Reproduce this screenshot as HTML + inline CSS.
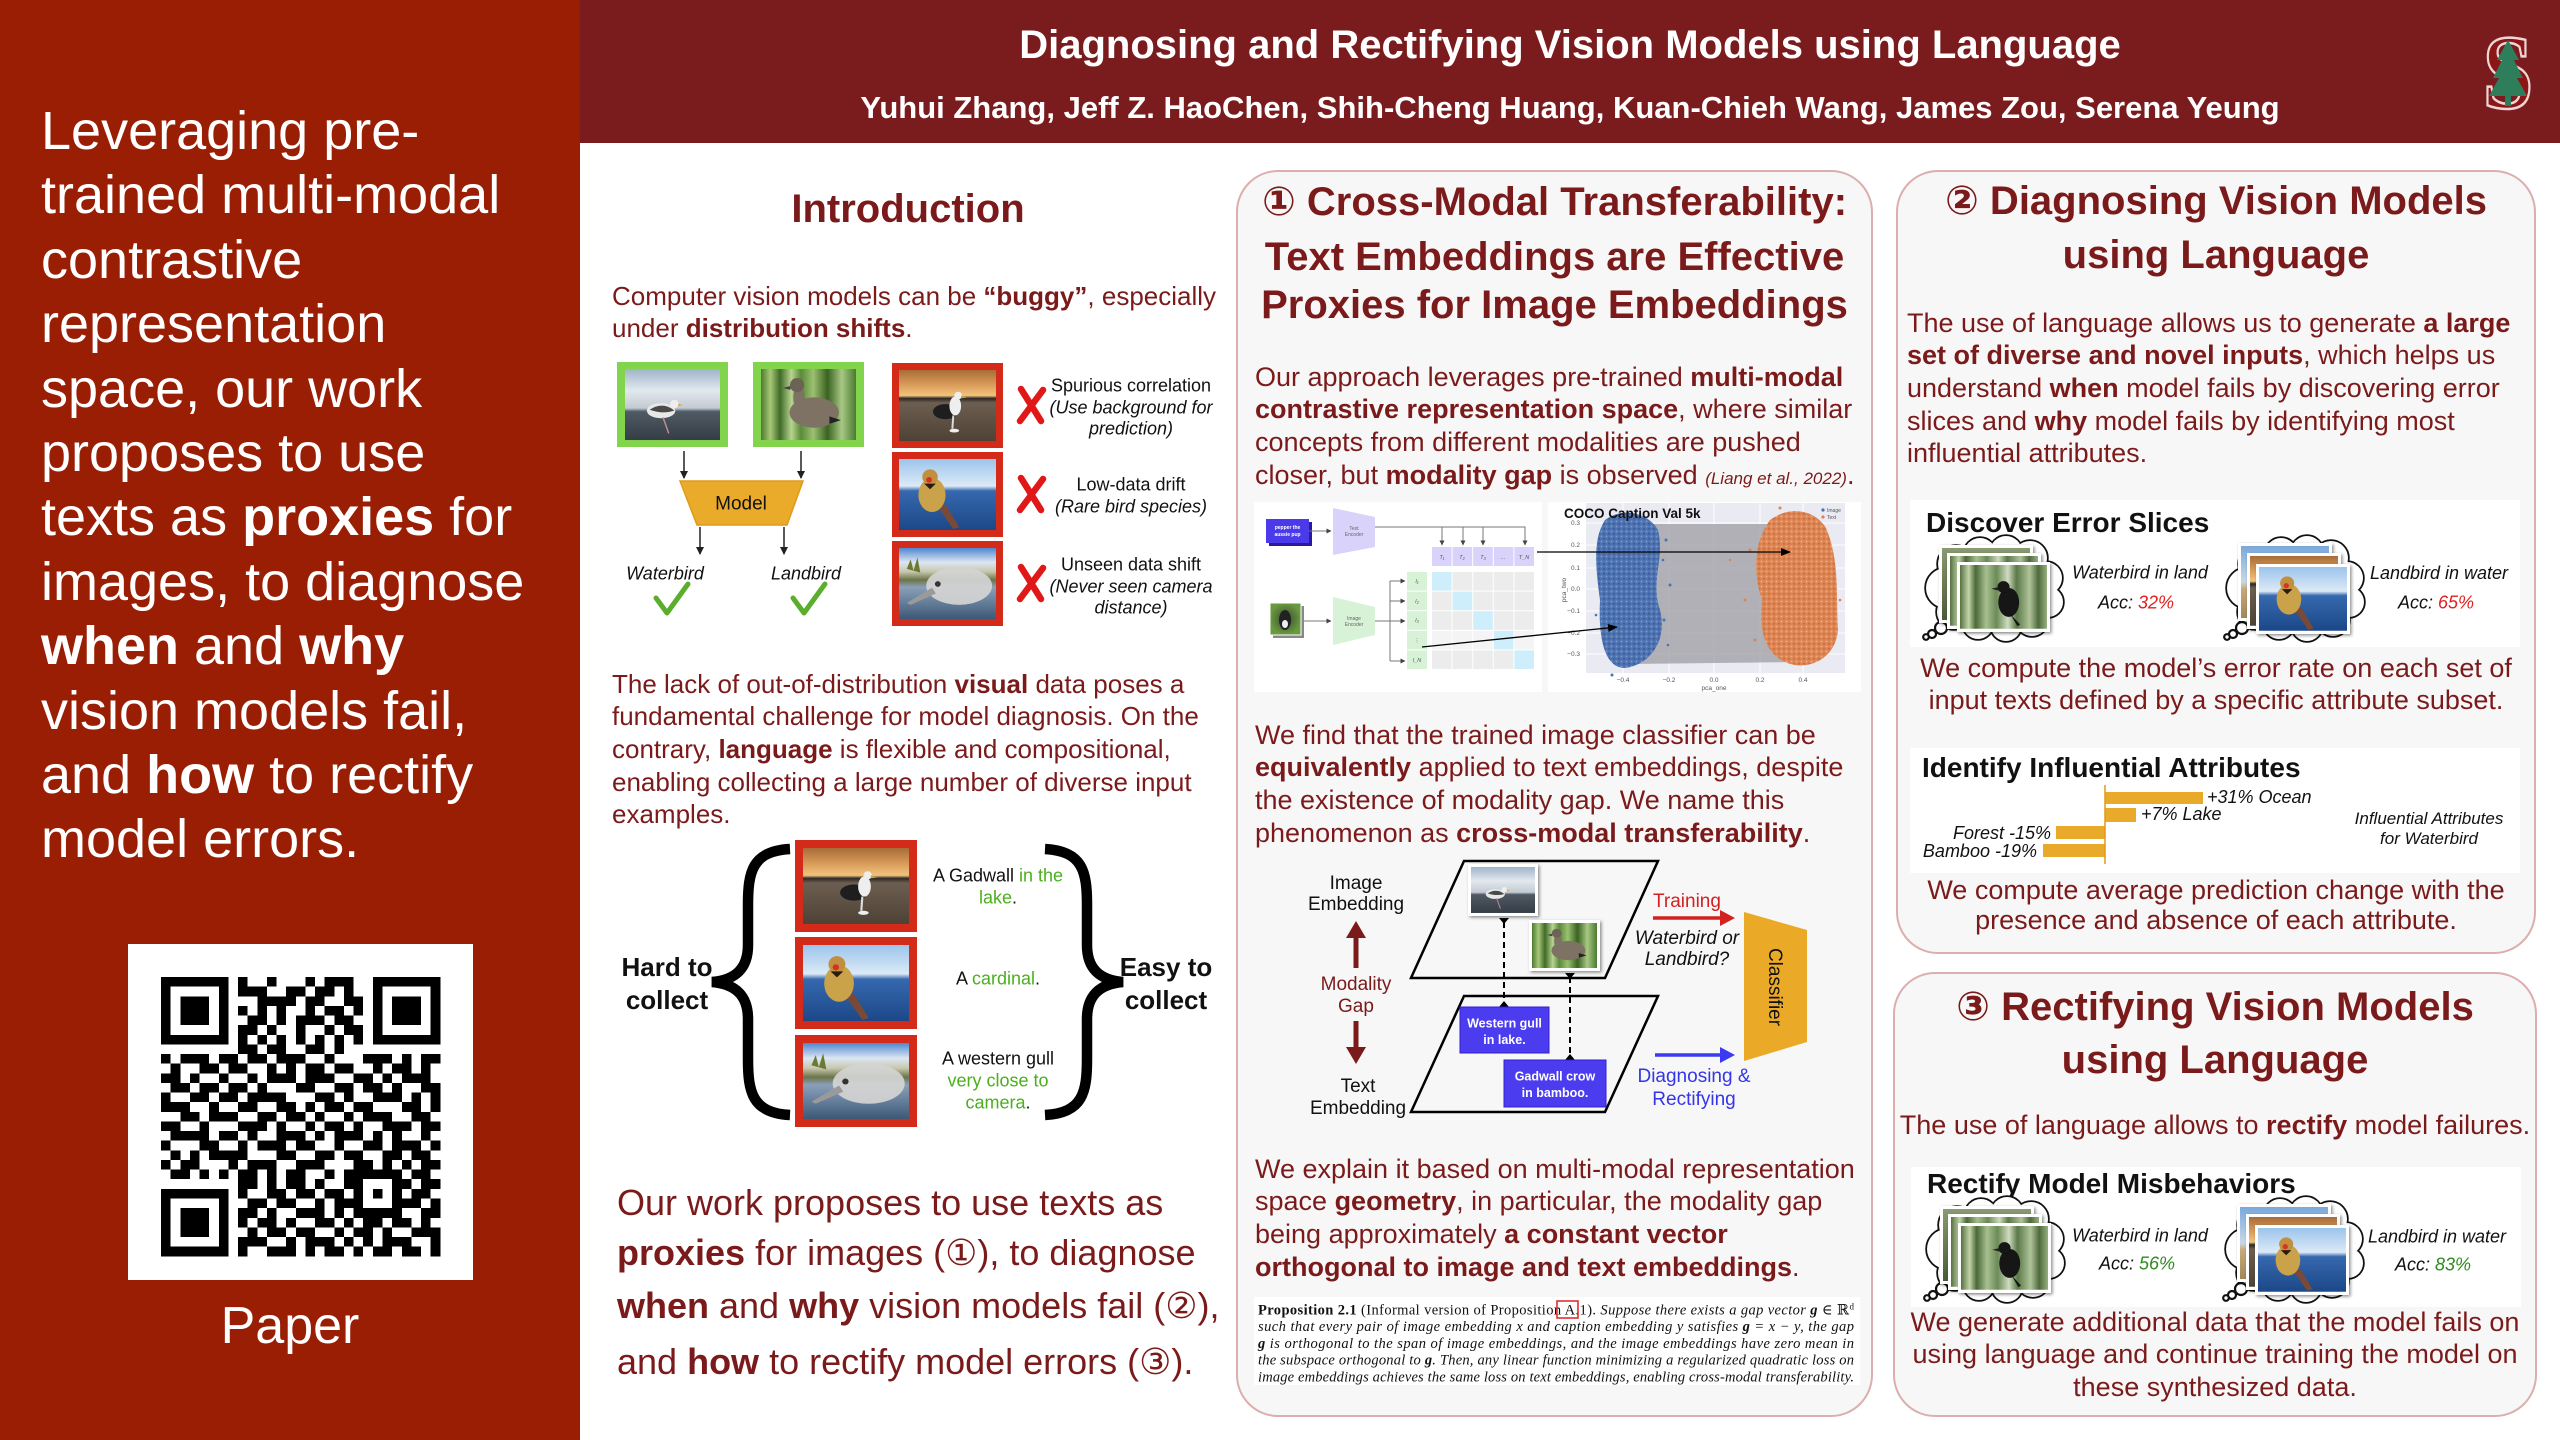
<!DOCTYPE html>
<html><head><meta charset="utf-8">
<style>
*{margin:0;padding:0;box-sizing:border-box}
body{width:2560px;height:1440px;position:relative;overflow:hidden;background:#fff;font-family:"Liberation Sans","DejaVu Sans","Noto Sans CJK SC",sans-serif}
.a{position:absolute;white-space:nowrap}
.b27{font-size:27px;line-height:32.7px;color:#7b1a1a}
.b26{font-size:26px;line-height:32.7px;color:#7b1a1a}
.panel{position:absolute;background:#f7f7f7;border:2px solid #dcaeae;border-radius:42px}
.t40{position:absolute;font-size:40px;font-weight:bold;color:#7b1a1a;line-height:40px;text-align:center;white-space:nowrap}
.c{text-align:center}
</style></head><body>

<!-- left panel -->
<div class="a" style="left:0;top:0;width:580px;height:1440px;background:#991e04"></div>
<div class="a" style="left:41px;top:99px;font-size:54px;line-height:64.4px;color:#fff">Leveraging pre-<br>trained multi-modal<br>contrastive<br>representation<br>space, our work<br>proposes to use<br>texts as <b>proxies</b> for<br>images, to diagnose<br><b>when</b> and <b>why</b><br>vision models fail,<br>and <b>how</b> to rectify<br>model errors.</div>
<div class="a" style="left:128px;top:944px;width:345px;height:336px;background:#fff"></div>
<div class="a c" style="left:0;top:1300px;width:580px;font-size:52px;line-height:52px;color:#fff">Paper</div>

<!-- header -->
<div class="a" style="left:580px;top:0;width:1980px;height:143px;background:#7a1c1e"></div>
<div class="a c" style="left:580px;top:25px;width:1980px;font-size:40px;line-height:40px;font-weight:bold;color:#fff">Diagnosing and Rectifying Vision Models using Language</div>
<div class="a c" style="left:580px;top:92px;width:1980px;font-size:31px;line-height:32px;font-weight:bold;color:#fff">Yuhui Zhang, Jeff Z. HaoChen, Shih-Cheng Huang, Kuan-Chieh Wang, James Zou, Serena Yeung</div>

<!-- panels -->
<div class="panel" style="left:1236px;top:170px;width:637px;height:1247px"></div>
<div class="panel" style="left:1896px;top:170px;width:640px;height:784px"></div>
<div class="panel" style="left:1893px;top:972px;width:644px;height:445px"></div>

<!-- Intro text -->
<div class="t40" style="left:580px;top:189px;width:656px">Introduction</div>
<div class="a b26" style="left:612px;top:279.6px">Computer vision models can be <b>“buggy”</b>, especially<br>under <b>distribution shifts</b>.</div>
<div class="a b26" style="left:612px;top:667.6px">The lack of out-of-distribution <b>visual</b> data poses a<br>fundamental challenge for model diagnosis. On the<br>contrary, <b>language</b> is flexible and compositional,<br>enabling collecting a large number of diverse input<br>examples.</div>
<div class="a" style="left:617px;top:1185px;font-size:36px;line-height:36px;color:#7b1a1a">Our work proposes to use texts as</div>
<div class="a" style="left:617px;top:1235px;font-size:36px;line-height:36px;color:#7b1a1a"><b>proxies</b> for images (①), to diagnose</div>
<div class="a" style="left:617px;top:1288px;font-size:36px;line-height:36px;color:#7b1a1a"><b>when</b> and <b>why</b> vision models fail (②),</div>
<div class="a" style="left:617px;top:1344px;font-size:36px;line-height:36px;color:#7b1a1a">and <b>how</b> to rectify model errors (③).</div>

<!-- Section 1 text -->
<div class="t40" style="left:1236px;top:182px;width:637px">① Cross-Modal Transferability:</div>
<div class="t40" style="left:1236px;top:237px;width:637px">Text Embeddings are Effective</div>
<div class="t40" style="left:1236px;top:285px;width:637px">Proxies for Image Embeddings</div>
<div class="a b27" style="left:1255px;top:360.6px">Our approach leverages pre-trained <b>multi-modal</b><br><b>contrastive representation space</b>, where similar<br>concepts from different modalities are pushed<br>closer, but <b>modality gap</b> is observed <i style="font-size:17px">(Liang et al., 2022)</i>.</div>
<div class="a b27" style="left:1255px;top:718.6px">We find that the trained image classifier can be<br><b>equivalently</b> applied to text embeddings, despite<br>the existence of modality gap. We name this<br>phenomenon as <b>cross-modal transferability</b>.</div>
<div class="a b27" style="left:1255px;top:1152.6px">We explain it based on multi-modal representation<br>space <b>geometry</b>, in particular, the modality gap<br>being approximately <b>a constant vector</b><br><b>orthogonal to image and text embeddings</b>.</div>
<div class="a" style="left:1254px;top:1297px;width:606px;height:88px;background:#fff"></div>

<!-- Section 2 text -->
<div class="t40" style="left:1896px;top:181px;width:640px">② Diagnosing Vision Models</div>
<div class="t40" style="left:1896px;top:235px;width:640px">using Language</div>
<div class="a b27" style="left:1907px;top:306.6px">The use of language allows us to generate <b>a large</b><br><b>set of diverse and novel inputs</b>, which helps us<br>understand <b>when</b> model fails by discovering error<br>slices and <b>why</b> model fails by identifying most<br>influential attributes.</div>

<!-- Section 3 text -->
<div class="t40" style="left:1893px;top:987px;width:644px">③ Rectifying Vision Models</div>
<div class="t40" style="left:1893px;top:1040px;width:644px">using Language</div>
<div class="a b27 c" style="left:1893px;top:1108.6px;width:644px">The use of language allows to <b>rectify</b> model failures.</div>

<svg class="a" style="left:0;top:0;font-family:'Liberation Sans','DejaVu Sans',sans-serif" width="2560" height="1440" viewBox="0 0 2560 1440">
<defs>
<linearGradient id="gGull" x1="0" y1="0" x2="0" y2="1"><stop offset="0" stop-color="#9fb4c8"/><stop offset=".3" stop-color="#e2e8ee"/><stop offset=".55" stop-color="#c3cad2"/><stop offset=".6" stop-color="#505a64"/><stop offset="1" stop-color="#353d46"/></linearGradient>
<linearGradient id="gDuck" x1="0" y1="0" x2="1" y2="0"><stop offset="0" stop-color="#4e7a30"/><stop offset=".1" stop-color="#a8c878"/><stop offset=".2" stop-color="#3f6a28"/><stop offset=".32" stop-color="#b8d490"/><stop offset=".42" stop-color="#5a8a3a"/><stop offset=".55" stop-color="#9cc070"/><stop offset=".7" stop-color="#3a6222"/><stop offset=".85" stop-color="#a8c884"/><stop offset="1" stop-color="#4a7a30"/></linearGradient>
<linearGradient id="gSunset" x1="0" y1="0" x2="0" y2="1"><stop offset="0" stop-color="#a86c38"/><stop offset=".2" stop-color="#d89a58"/><stop offset=".36" stop-color="#f2c37e"/><stop offset=".4" stop-color="#2c2824"/><stop offset=".46" stop-color="#6c5e50"/><stop offset="1" stop-color="#4e4236"/></linearGradient>
<linearGradient id="gSea" x1="0" y1="0" x2="0" y2="1"><stop offset="0" stop-color="#9cc4ec"/><stop offset=".38" stop-color="#dceaf6"/><stop offset=".45" stop-color="#3668ae"/><stop offset="1" stop-color="#1c4888"/></linearGradient>
<linearGradient id="gUnseen" x1="0" y1="0" x2="0" y2="1"><stop offset="0" stop-color="#4f86d0"/><stop offset=".2" stop-color="#dbe6f2"/><stop offset=".33" stop-color="#c8c8b0"/><stop offset=".45" stop-color="#6a7448"/><stop offset=".55" stop-color="#8aa0b8"/><stop offset="1" stop-color="#3c5878"/></linearGradient>
<linearGradient id="gBamboo" x1="0" y1="0" x2="1" y2="0"><stop offset="0" stop-color="#557040"/><stop offset=".1" stop-color="#c2d4a8"/><stop offset=".18" stop-color="#4a6838"/><stop offset=".3" stop-color="#a8c090"/><stop offset=".42" stop-color="#6c8a58"/><stop offset=".55" stop-color="#d0dcc0"/><stop offset=".65" stop-color="#5a7848"/><stop offset=".8" stop-color="#b0c49a"/><stop offset=".9" stop-color="#4e6a3c"/><stop offset="1" stop-color="#98b080"/></linearGradient>
<linearGradient id="gForest" x1="0" y1="0" x2="0" y2="1"><stop offset="0" stop-color="#8a9a70"/><stop offset="1" stop-color="#4a5a38"/></linearGradient>
<linearGradient id="gBeach" x1="0" y1="0" x2="0" y2="1"><stop offset="0" stop-color="#7aa8dc"/><stop offset=".5" stop-color="#c8d8e8"/><stop offset=".6" stop-color="#c8a878"/><stop offset="1" stop-color="#a08858"/></linearGradient>
<radialGradient id="gDog"><stop offset="0" stop-color="#3a4a30"/><stop offset="1" stop-color="#6a9a40"/></radialGradient>
<filter id="sh" x="-20%" y="-20%" width="140%" height="140%"><feDropShadow dx="1.5" dy="1.5" stdDeviation="1.5" flood-opacity=".45"/></filter>
<marker id="ah" markerWidth="8" markerHeight="8" refX="7" refY="4" orient="auto" markerUnits="userSpaceOnUse"><path d="M0,0L8,4L0,8z" fill="#222"/></marker>
<marker id="ahs" markerWidth="5" markerHeight="5" refX="4.5" refY="2.5" orient="auto" markerUnits="userSpaceOnUse"><path d="M0,0L5,2.5L0,5z" fill="#444"/></marker>
<marker id="ahb" markerWidth="10" markerHeight="10" refX="9" refY="5" orient="auto" markerUnits="userSpaceOnUse"><path d="M0,1L10,5L0,9z" fill="#000"/></marker>
<pattern id="dotB" width="5" height="5" patternUnits="userSpaceOnUse"><rect width="5" height="5" fill="#4c72b0"/><circle cx="1.5" cy="1.5" r="1" fill="#7a98cc"/><circle cx="4" cy="3.8" r=".9" fill="#36579a"/></pattern>
<pattern id="dotO" width="5" height="5" patternUnits="userSpaceOnUse"><rect width="5" height="5" fill="#dd8452"/><circle cx="1.5" cy="1.5" r="1" fill="#eeaa80"/><circle cx="4" cy="3.8" r=".9" fill="#c46a38"/></pattern>

<g id="phGull"><rect width="100" height="75" fill="url(#gGull)"/><ellipse cx="38" cy="44" rx="15" ry="8" fill="#e8e8e8"/><path d="M26,43 Q40,34 52,44 Q40,48 26,43z" fill="#4a4a4a"/><circle cx="52" cy="37" r="4.5" fill="#eee"/><path d="M56,37l5,1l-5,1z" fill="#e0a020"/><line x1="40" y1="51" x2="46" y2="68" stroke="#c09090" stroke-width="1.5"/></g>
<g id="phDuck"><rect width="100" height="75" fill="url(#gDuck)"/><ellipse cx="56" cy="46" rx="26" ry="16" fill="#7d7264"/><ellipse cx="40" cy="30" rx="6" ry="12" fill="#7d7264"/><circle cx="38" cy="17" r="7.5" fill="#6d6256"/><path d="M31,18l-8,2l8,2z" fill="#444"/><path d="M72,50l12,4l-12,4z" fill="#222"/></g>
<g id="phSunset"><rect width="100" height="75" fill="url(#gSunset)"/><ellipse cx="48" cy="44" rx="13" ry="8" fill="#1e1e1e"/><ellipse cx="58" cy="38" rx="6" ry="10" fill="#eee"/><circle cx="61" cy="27" r="4" fill="#eee"/><path d="M64,27l6,2l-6,1z" fill="#c8a040"/><line x1="56" y1="48" x2="55" y2="62" stroke="#ddd" stroke-width="2"/><ellipse cx="57" cy="64" rx="5" ry="2" fill="#eee"/></g>
<g id="phCard"><rect width="100" height="75" fill="url(#gSea)"/><path d="M40,50 L56,74 L62,72 L48,48z" fill="#7a4a38"/><ellipse cx="34" cy="38" rx="14" ry="18" fill="#c9a24a"/><circle cx="32" cy="19" r="8" fill="#c09040"/><circle cx="31" cy="22" r="3" fill="#d83020"/><path d="M26,26 l12,0 l-6,6z" fill="#2a1a10"/></g>
<g id="phUnseen"><rect width="100" height="75" fill="url(#gUnseen)"/><path d="M8,22 l4,-10 l3,12 l4,-14 l3,16z" fill="#6a7a30"/><ellipse cx="62" cy="40" rx="34" ry="20" fill="#d4d4d4" opacity=".92"/><path d="M34,42 L8,58 L12,60 L38,48z" fill="#9a9a9a"/><circle cx="40" cy="38" r="3" fill="#333"/></g>
<g id="phBamboo"><rect width="100" height="75" fill="url(#gBamboo)"/><ellipse cx="56" cy="44" rx="12" ry="17" fill="#121212"/><circle cx="50" cy="26" r="7" fill="#121212"/><path d="M44,26l-8,2l8,2z" fill="#222"/><path d="M58,58l8,14l3,-2z" fill="#121212"/></g>
<g id="phForest"><rect width="100" height="75" fill="url(#gForest)"/></g>
<g id="phBeach"><rect width="100" height="75" fill="url(#gBeach)"/></g>

<g id="cloudBase">
 <g fill="none" stroke="#111" stroke-width="3.5">
  <circle cx="24" cy="46" r="20"/><circle cx="34" cy="22" r="18"/><circle cx="58" cy="12" r="16"/><circle cx="84" cy="10" r="16"/><circle cx="108" cy="16" r="17"/><circle cx="124" cy="36" r="16"/><circle cx="126" cy="60" r="15"/><circle cx="110" cy="78" r="16"/><circle cx="84" cy="84" r="15"/><circle cx="56" cy="82" r="15"/><circle cx="32" cy="70" r="17"/>
 </g>
 <g fill="#fff">
  <circle cx="24" cy="46" r="20"/><circle cx="34" cy="22" r="18"/><circle cx="58" cy="12" r="16"/><circle cx="84" cy="10" r="16"/><circle cx="108" cy="16" r="17"/><circle cx="124" cy="36" r="16"/><circle cx="126" cy="60" r="15"/><circle cx="110" cy="78" r="16"/><circle cx="84" cy="84" r="15"/><circle cx="56" cy="82" r="15"/><circle cx="32" cy="70" r="17"/><ellipse cx="74" cy="46" rx="52" ry="36"/>
 </g>
 <g fill="#fff" stroke="#111" stroke-width="2.2"><circle cx="19" cy="86" r="6"/><circle cx="10" cy="92" r="4"/><circle cx="4" cy="95" r="2.8"/></g>
</g>
<g id="cloudW">
 <use href="#cloudBase"/>
 <g filter="url(#sh)"><rect x="17" y="3" width="94" height="78" fill="#fff"/><use href="#phForest" transform="translate(20,6) scale(.88,.96)"/></g>
 <g filter="url(#sh)"><rect x="25" y="11" width="94" height="76" fill="#fff"/><use href="#phBamboo" transform="translate(28,14) scale(.88,.93)"/></g>
 <g filter="url(#sh)"><rect x="35" y="20" width="93" height="70" fill="#fff"/><use href="#phBamboo" transform="translate(38,23) scale(.87,.85)"/></g>
</g>
<g id="cloudL">
 <use href="#cloudBase"/>
 <g filter="url(#sh)"><rect x="15" y="1" width="94" height="78" fill="#fff"/><use href="#phBeach" transform="translate(18,4) scale(.88,.96)"/></g>
 <g filter="url(#sh)"><rect x="24" y="11" width="94" height="76" fill="#fff"/><use href="#phSunset" transform="translate(27,14) scale(.88,.93)"/></g>
 <g filter="url(#sh)"><rect x="33" y="22" width="94" height="70" fill="#fff"/><use href="#phCard" transform="translate(36,25) scale(.88,.85)"/></g>
</g>
</defs>

<!-- Stanford logo -->
<text x="2508" y="108" text-anchor="middle" font-family="Liberation Serif" font-weight="bold" font-size="106" fill="#8c1515" stroke="#efd6d6" stroke-width="2.5" transform="translate(2508,0) scale(.86,1) translate(-2508,0)">S</text>
<polygon points="2508,40 2497,60 2502,60 2493,78 2499,78 2489,96 2527,96 2517,78 2523,78 2514,60 2519,60" fill="#2e7d5b"/>
<rect x="2505" y="95" width="6" height="11" fill="#2e7d5b"/>

<!-- QR -->
<path fill="#000" shape-rendering="crispEdges" transform="translate(161,977) scale(9.63)" d="M0 0h7v1h-7zM8 0h1v1h-1zM11 0h1v1h-1zM15 0h1v1h-1zM17 0h3v1h-3zM22 0h7v1h-7zM0 1h1v1h-1zM6 1h1v1h-1zM8 1h3v1h-3zM13 1h2v1h-2zM16 1h2v1h-2zM19 1h1v1h-1zM22 1h1v1h-1zM28 1h1v1h-1zM0 2h1v1h-1zM2 2h3v1h-3zM6 2h1v1h-1zM10 2h4v1h-4zM15 2h2v1h-2zM19 2h2v1h-2zM22 2h1v1h-1zM24 2h3v1h-3zM28 2h1v1h-1zM0 3h1v1h-1zM2 3h3v1h-3zM6 3h1v1h-1zM8 3h1v1h-1zM10 3h1v1h-1zM12 3h1v1h-1zM15 3h1v1h-1zM17 3h2v1h-2zM20 3h1v1h-1zM22 3h1v1h-1zM24 3h3v1h-3zM28 3h1v1h-1zM0 4h1v1h-1zM2 4h3v1h-3zM6 4h1v1h-1zM9 4h2v1h-2zM12 4h1v1h-1zM14 4h3v1h-3zM18 4h2v1h-2zM22 4h1v1h-1zM24 4h3v1h-3zM28 4h1v1h-1zM0 5h1v1h-1zM6 5h1v1h-1zM8 5h2v1h-2zM11 5h1v1h-1zM14 5h1v1h-1zM17 5h1v1h-1zM19 5h2v1h-2zM22 5h1v1h-1zM28 5h1v1h-1zM0 6h7v1h-7zM8 6h1v1h-1zM10 6h1v1h-1zM12 6h1v1h-1zM14 6h1v1h-1zM16 6h1v1h-1zM18 6h1v1h-1zM20 6h1v1h-1zM22 6h7v1h-7zM8 7h2v1h-2zM11 7h2v1h-2zM15 7h2v1h-2zM18 7h1v1h-1zM0 8h1v1h-1zM2 8h3v1h-3zM6 8h2v1h-2zM9 8h2v1h-2zM12 8h3v1h-3zM17 8h1v1h-1zM21 8h3v1h-3zM25 8h1v1h-1zM27 8h2v1h-2zM1 9h1v1h-1zM4 9h2v1h-2zM7 9h2v1h-2zM11 9h1v1h-1zM13 9h1v1h-1zM15 9h2v1h-2zM18 9h2v1h-2zM22 9h1v1h-1zM24 9h2v1h-2zM27 9h1v1h-1zM0 10h2v1h-2zM3 10h1v1h-1zM6 10h1v1h-1zM9 10h1v1h-1zM11 10h3v1h-3zM15 10h3v1h-3zM20 10h2v1h-2zM23 10h1v1h-1zM25 10h3v1h-3zM1 11h2v1h-2zM4 11h2v1h-2zM7 11h2v1h-2zM10 11h1v1h-1zM14 11h2v1h-2zM18 11h2v1h-2zM21 11h2v1h-2zM24 11h1v1h-1zM27 11h2v1h-2zM0 12h1v1h-1zM3 12h2v1h-2zM6 12h2v1h-2zM9 12h4v1h-4zM16 12h2v1h-2zM19 12h1v1h-1zM22 12h3v1h-3zM26 12h1v1h-1zM28 12h1v1h-1zM0 13h3v1h-3zM5 13h1v1h-1zM8 13h2v1h-2zM12 13h2v1h-2zM15 13h1v1h-1zM17 13h2v1h-2zM20 13h2v1h-2zM25 13h2v1h-2zM28 13h1v1h-1zM2 14h2v1h-2zM5 14h3v1h-3zM10 14h2v1h-2zM13 14h2v1h-2zM16 14h1v1h-1zM19 14h1v1h-1zM21 14h3v1h-3zM26 14h2v1h-2zM0 15h2v1h-2zM4 15h1v1h-1zM8 15h3v1h-3zM12 15h1v1h-1zM15 15h1v1h-1zM17 15h2v1h-2zM20 15h1v1h-1zM23 15h3v1h-3zM27 15h2v1h-2zM1 16h4v1h-4zM6 16h2v1h-2zM9 16h1v1h-1zM12 16h3v1h-3zM16 16h1v1h-1zM18 16h3v1h-3zM22 16h1v1h-1zM24 16h1v1h-1zM27 16h1v1h-1zM0 17h1v1h-1zM4 17h2v1h-2zM8 17h1v1h-1zM10 17h3v1h-3zM14 17h2v1h-2zM18 17h1v1h-1zM21 17h2v1h-2zM24 17h3v1h-3zM28 17h1v1h-1zM1 18h1v1h-1zM3 18h1v1h-1zM5 18h4v1h-4zM12 18h2v1h-2zM16 18h2v1h-2zM19 18h2v1h-2zM23 18h2v1h-2zM26 18h2v1h-2zM0 19h1v1h-1zM2 19h2v1h-2zM7 19h1v1h-1zM9 19h3v1h-3zM14 19h3v1h-3zM20 19h2v1h-2zM23 19h1v1h-1zM25 19h1v1h-1zM27 19h2v1h-2zM1 20h2v1h-2zM4 20h1v1h-1zM6 20h1v1h-1zM8 20h2v1h-2zM11 20h1v1h-1zM13 20h2v1h-2zM17 20h1v1h-1zM19 20h6v1h-6zM26 20h2v1h-2zM8 21h2v1h-2zM11 21h1v1h-1zM13 21h2v1h-2zM16 21h1v1h-1zM19 21h2v1h-2zM24 21h2v1h-2zM27 21h2v1h-2zM0 22h7v1h-7zM8 22h1v1h-1zM11 22h2v1h-2zM14 22h2v1h-2zM17 22h2v1h-2zM20 22h1v1h-1zM22 22h1v1h-1zM24 22h1v1h-1zM26 22h2v1h-2zM0 23h1v1h-1zM6 23h1v1h-1zM9 23h2v1h-2zM12 23h2v1h-2zM16 23h1v1h-1zM18 23h3v1h-3zM24 23h3v1h-3zM28 23h1v1h-1zM0 24h1v1h-1zM2 24h3v1h-3zM6 24h1v1h-1zM8 24h2v1h-2zM11 24h1v1h-1zM14 24h3v1h-3zM18 24h1v1h-1zM20 24h5v1h-5zM27 24h2v1h-2zM0 25h1v1h-1zM2 25h3v1h-3zM6 25h1v1h-1zM8 25h1v1h-1zM10 25h2v1h-2zM13 25h1v1h-1zM16 25h2v1h-2zM19 25h1v1h-1zM21 25h2v1h-2zM24 25h2v1h-2zM27 25h1v1h-1zM0 26h1v1h-1zM2 26h3v1h-3zM6 26h1v1h-1zM9 26h1v1h-1zM11 26h2v1h-2zM14 26h2v1h-2zM18 26h1v1h-1zM20 26h2v1h-2zM23 26h1v1h-1zM26 26h3v1h-3zM0 27h1v1h-1zM6 27h1v1h-1zM8 27h3v1h-3zM13 27h1v1h-1zM15 27h3v1h-3zM19 27h1v1h-1zM21 27h1v1h-1zM23 27h3v1h-3zM28 27h1v1h-1zM0 28h7v1h-7zM8 28h1v1h-1zM11 28h3v1h-3zM15 28h1v1h-1zM17 28h2v1h-2zM20 28h1v1h-1zM22 28h2v1h-2zM25 28h2v1h-2zM28 28h1v1h-1z"/>

<!-- ===== Intro fig 1 ===== -->
<rect x="617" y="362" width="111" height="85" fill="#82d44c"/>
<use href="#phGull" transform="translate(625,369) scale(.95,.947)"/>
<rect x="753" y="362" width="111" height="85" fill="#82d44c"/>
<use href="#phDuck" transform="translate(761,369) scale(.95,.947)"/>
<g stroke="#222" stroke-width="1.5" marker-end="url(#ah)">
<line x1="684" y1="451" x2="684" y2="478"/><line x1="801" y1="451" x2="801" y2="478"/>
<line x1="700" y1="527" x2="700" y2="554"/><line x1="784" y1="527" x2="784" y2="554"/>
</g>
<polygon points="680,481 803,481 787,525 697,525" fill="#eaaa2a" stroke="#e09a18" stroke-width="1.5"/>
<text x="741" y="509.5" font-size="19" text-anchor="middle" fill="#111">Model</text>
<text x="665" y="579.5" font-size="18" font-style="italic" text-anchor="middle" fill="#111">Waterbird</text>
<text x="806" y="579.5" font-size="18" font-style="italic" text-anchor="middle" fill="#111">Landbird</text>
<g fill="none" stroke="#5aae2c" stroke-width="5" stroke-linecap="round" stroke-linejoin="round">
<polyline points="656,598 667,613 688,584"/><polyline points="793,598 804,613 825,584"/>
</g>
<rect x="892" y="363" width="111" height="85" fill="#d42a1a"/>
<use href="#phSunset" transform="translate(899,370) scale(.97,.947)"/>
<rect x="892" y="452" width="111" height="85" fill="#d42a1a"/>
<use href="#phCard" transform="translate(899,459) scale(.97,.947)"/>
<rect x="892" y="541" width="111" height="85" fill="#d42a1a"/>
<use href="#phUnseen" transform="translate(899,548) scale(.97,.947)"/>
<g stroke="#e01818" stroke-width="6.5" stroke-linecap="round">
<line x1="1021" y1="389" x2="1041" y2="421"/><line x1="1043" y1="390" x2="1020" y2="421"/>
<line x1="1021" y1="478" x2="1041" y2="510"/><line x1="1043" y1="479" x2="1020" y2="510"/>
<line x1="1021" y1="567" x2="1041" y2="599"/><line x1="1043" y1="568" x2="1020" y2="599"/>
</g>
<g font-size="18" text-anchor="middle" fill="#111">
<text x="1131" y="391.5">Spurious correlation</text>
<text x="1131" y="413.5" font-style="italic">(Use background for</text>
<text x="1131" y="434.5" font-style="italic">prediction)</text>
<text x="1131" y="490.5">Low-data drift</text>
<text x="1131" y="512.5" font-style="italic">(Rare bird species)</text>
<text x="1131" y="570.5">Unseen data shift</text>
<text x="1131" y="592.5" font-style="italic">(Never seen camera</text>
<text x="1131" y="613.5" font-style="italic">distance)</text>
</g>

<!-- ===== Intro fig 2 ===== -->
<path d="M790,849 C752,851 748,872 748,905 L748,945 C748,968 736,980 712,982 C736,984 748,996 748,1019 L748,1059 C748,1092 752,1113 790,1115" fill="none" stroke="#000" stroke-width="10.5"/>
<path d="M1045,849 C1083,851 1087,872 1087,905 L1087,945 C1087,968 1099,980 1123,982 C1099,984 1087,996 1087,1019 L1087,1059 C1087,1092 1083,1113 1045,1115" fill="none" stroke="#000" stroke-width="10.5"/>
<rect x="795" y="840" width="122" height="92" fill="#d42a1a"/>
<use href="#phSunset" transform="translate(803,848) scale(1.06,1.013)"/>
<rect x="795" y="937" width="122" height="92" fill="#d42a1a"/>
<use href="#phCard" transform="translate(803,945) scale(1.06,1.013)"/>
<rect x="795" y="1035" width="122" height="92" fill="#d42a1a"/>
<use href="#phUnseen" transform="translate(803,1043) scale(1.06,1.013)"/>
<g font-size="18" text-anchor="middle" fill="#111">
<text x="998" y="881.5">A Gadwall <tspan fill="#4caf1c">in the</tspan></text>
<text x="998" y="903.5"><tspan fill="#4caf1c">lake</tspan>.</text>
<text x="998" y="984.5">A <tspan fill="#4caf1c">cardinal</tspan>.</text>
<text x="998" y="1064.5">A western gull</text>
<text x="998" y="1086.5" fill="#4caf1c">very close to</text>
<text x="998" y="1108.5"><tspan fill="#4caf1c">camera</tspan>.</text>
</g>
<g font-size="26" font-weight="bold" text-anchor="middle" fill="#111">
<text x="667" y="976">Hard to</text><text x="667" y="1009">collect</text>
<text x="1166" y="976">Easy to</text><text x="1166" y="1009">collect</text>
</g>

<!-- ===== Section 1 fig 1 ===== -->
<rect x="1254" y="502" width="288" height="190" fill="#fff"/>
<rect x="1548" y="502" width="313" height="190" fill="#fff"/>
<rect x="1269" y="522" width="43" height="24" fill="#2a1aa0"/>
<rect x="1266" y="519" width="43" height="24" fill="#4b3aea"/>
<text x="1287.5" y="529" font-size="5" font-weight="bold" fill="#fff" text-anchor="middle">pepper the</text>
<text x="1287.5" y="536" font-size="5" font-weight="bold" fill="#fff" text-anchor="middle">aussie pup</text>
<polygon points="1333,508 1375,517 1375,547 1333,555" fill="#d9d2fa"/>
<text x="1354" y="530" font-size="5" fill="#666" text-anchor="middle">Text</text><text x="1354" y="536" font-size="5" fill="#666" text-anchor="middle">Encoder</text>
<polygon points="1333,597 1375,607 1375,635 1333,645" fill="#d8f2d8"/>
<text x="1354" y="620" font-size="5" fill="#666" text-anchor="middle">Image</text><text x="1354" y="626" font-size="5" fill="#666" text-anchor="middle">Encoder</text>
<g stroke="#777" stroke-width="1" fill="none">
<line x1="1309" y1="531" x2="1331" y2="531" marker-end="url(#ahs)"/>
<line x1="1303" y1="621" x2="1331" y2="621" marker-end="url(#ahs)"/>
<polyline points="1375,527 1525,527 1525,545" marker-end="url(#ahs)"/>
<line x1="1442" y1="527" x2="1442" y2="545" marker-end="url(#ahs)"/>
<line x1="1463" y1="527" x2="1463" y2="545" marker-end="url(#ahs)"/>
<line x1="1483" y1="527" x2="1483" y2="545" marker-end="url(#ahs)"/>
<polyline points="1375,621 1390,621"/>
<line x1="1390" y1="581" x2="1390" y2="661"/>
<line x1="1390" y1="581" x2="1405" y2="581" marker-end="url(#ahs)"/>
<line x1="1390" y1="601" x2="1405" y2="601" marker-end="url(#ahs)"/>
<line x1="1390" y1="621" x2="1405" y2="621" marker-end="url(#ahs)"/>
<line x1="1390" y1="661" x2="1405" y2="661" marker-end="url(#ahs)"/>
</g>
<rect x="1273" y="606" width="31" height="32" fill="#888"/>
<rect x="1270" y="603" width="31" height="32" fill="url(#gDog)" stroke="#fff" stroke-width="1"/>
<ellipse cx="1285" cy="620" rx="6" ry="10" fill="#222"/><ellipse cx="1285" cy="624" rx="3" ry="4" fill="#eee"/>
<g fill="#d9d2fa">
<rect x="1432" y="547" width="19.6" height="19"/><rect x="1452.6" y="547" width="19.6" height="19"/><rect x="1473.2" y="547" width="19.6" height="19"/><rect x="1493.8" y="547" width="19.6" height="19"/><rect x="1514.4" y="547" width="19.6" height="19"/>
</g>
<g fill="#d8f2d8">
<rect x="1407" y="572" width="20" height="18.6"/><rect x="1407" y="591.6" width="20" height="18.6"/><rect x="1407" y="611.2" width="20" height="18.6"/><rect x="1407" y="630.8" width="20" height="18.6"/><rect x="1407" y="650.4" width="20" height="18.6"/>
</g>
<g fill="#ececec">
<rect x="1452.6" y="572" width="19.6" height="18.6"/><rect x="1473.2" y="572" width="19.6" height="18.6"/><rect x="1493.8" y="572" width="19.6" height="18.6"/><rect x="1514.4" y="572" width="19.6" height="18.6"/>
<rect x="1432" y="591.6" width="19.6" height="18.6"/><rect x="1473.2" y="591.6" width="19.6" height="18.6"/><rect x="1493.8" y="591.6" width="19.6" height="18.6"/><rect x="1514.4" y="591.6" width="19.6" height="18.6"/>
<rect x="1432" y="611.2" width="19.6" height="18.6"/><rect x="1452.6" y="611.2" width="19.6" height="18.6"/><rect x="1493.8" y="611.2" width="19.6" height="18.6"/><rect x="1514.4" y="611.2" width="19.6" height="18.6"/>
<rect x="1432" y="630.8" width="19.6" height="18.6" fill="#f4f4f4"/><rect x="1452.6" y="630.8" width="19.6" height="18.6" fill="#f4f4f4"/><rect x="1473.2" y="630.8" width="19.6" height="18.6" fill="#f4f4f4"/><rect x="1514.4" y="630.8" width="19.6" height="18.6" fill="#f4f4f4"/>
<rect x="1432" y="650.4" width="19.6" height="18.6"/><rect x="1452.6" y="650.4" width="19.6" height="18.6"/><rect x="1473.2" y="650.4" width="19.6" height="18.6"/><rect x="1493.8" y="650.4" width="19.6" height="18.6"/>
</g>
<g fill="#cdeefa">
<rect x="1432" y="572" width="19.6" height="18.6"/><rect x="1452.6" y="591.6" width="19.6" height="18.6"/><rect x="1473.2" y="611.2" width="19.6" height="18.6"/><rect x="1493.8" y="630.8" width="19.6" height="18.6"/><rect x="1514.4" y="650.4" width="19.6" height="18.6"/>
</g>
<g font-size="5.5" fill="#555" text-anchor="middle" font-style="italic">
<text x="1442" y="559">T₁</text><text x="1462" y="559">T₂</text><text x="1483" y="559">T₃</text><text x="1503" y="559">…</text><text x="1524" y="559">T_N</text>
<text x="1417" y="583">I₁</text><text x="1417" y="603">I₂</text><text x="1417" y="622">I₃</text><text x="1417" y="642">⋮</text><text x="1417" y="662">I_N</text>
</g>
<!-- plot -->
<rect x="1586" y="503" width="259" height="170" fill="#eaeaf2"/>
<g stroke="#fff" stroke-width="1">
<line x1="1586" y1="523" x2="1845" y2="523"/><line x1="1586" y1="545" x2="1845" y2="545"/><line x1="1586" y1="568" x2="1845" y2="568"/><line x1="1586" y1="589" x2="1845" y2="589"/><line x1="1586" y1="611" x2="1845" y2="611"/><line x1="1586" y1="633" x2="1845" y2="633"/><line x1="1586" y1="654" x2="1845" y2="654"/>
<line x1="1623" y1="503" x2="1623" y2="673"/><line x1="1669" y1="503" x2="1669" y2="673"/><line x1="1714" y1="503" x2="1714" y2="673"/><line x1="1760" y1="503" x2="1760" y2="673"/><line x1="1803" y1="503" x2="1803" y2="673"/>
</g>
<polygon points="1628,524 1790,524 1800,662 1628,664" fill="#9c9ca2" opacity=".75"/>
<path d="M1605,520 C1625,505 1650,515 1658,530 C1665,560 1650,580 1660,610 C1668,640 1650,665 1625,668 C1605,668 1598,640 1600,600 C1596,570 1592,540 1605,520 Z" fill="url(#dotB)"/>
<path d="M1770,520 C1790,505 1815,510 1826,528 C1840,560 1836,600 1838,630 C1836,655 1815,668 1795,665 C1770,660 1758,640 1762,600 C1752,570 1755,540 1770,520 Z" fill="url(#dotO)"/>
<g fill="#4c72b0"><circle cx="1666" cy="540" r="1.5"/><circle cx="1670" cy="585" r="1.5"/><circle cx="1664" cy="620" r="1.5"/><circle cx="1598" cy="560" r="1.5"/><circle cx="1612" cy="675" r="1.5"/><circle cx="1663" cy="560" r="1.3"/><circle cx="1668" cy="645" r="1.3"/><circle cx="1596" cy="615" r="1.3"/></g>
<g fill="#dd8452"><circle cx="1750" cy="550" r="1.5"/><circle cx="1745" cy="600" r="1.5"/><circle cx="1755" cy="640" r="1.5"/><circle cx="1780" cy="508" r="1.5"/><circle cx="1730" cy="560" r="1.2"/><circle cx="1758" cy="575" r="1.3"/><circle cx="1840" cy="600" r="1.3"/></g>
<text x="1564" y="518" font-size="13.5" font-weight="bold" fill="#111">COCO Caption Val 5k</text>
<g font-size="6.5" fill="#555" text-anchor="end">
<text x="1580" y="525">0.3</text><text x="1580" y="547">0.2</text><text x="1580" y="570">0.1</text><text x="1580" y="591">0.0</text><text x="1580" y="613">−0.1</text><text x="1580" y="635">−0.2</text><text x="1580" y="656">−0.3</text>
</g>
<g font-size="6.5" fill="#555" text-anchor="middle">
<text x="1623" y="682">−0.4</text><text x="1669" y="682">−0.2</text><text x="1714" y="682">0.0</text><text x="1760" y="682">0.2</text><text x="1803" y="682">0.4</text>
<text x="1714" y="690">pca_one</text>
<text transform="translate(1566,590) rotate(-90)">pca_two</text>
</g>
<circle cx="1823" cy="510" r="1.6" fill="#4c72b0"/><text x="1827" y="512" font-size="5" fill="#555">Image</text>
<circle cx="1823" cy="517" r="1.6" fill="#dd8452"/><text x="1827" y="519" font-size="5" fill="#555">Text</text>
<g stroke="#000" stroke-width="1.3" marker-end="url(#ahb)">
<line x1="1537" y1="552" x2="1790" y2="552"/>
<line x1="1422" y1="647" x2="1617" y2="627"/>
</g>

<!-- ===== Section 1 fig 2 ===== -->
<polygon points="1411,978 1464,861 1658,861 1605,978" fill="none" stroke="#000" stroke-width="2.5"/>
<polygon points="1411,1112 1464,996 1658,996 1605,1112" fill="none" stroke="#000" stroke-width="2.5"/>
<g filter="url(#sh)"><rect x="1468" y="864" width="70" height="52" fill="#fff"/></g>
<use href="#phGull" transform="translate(1471,867) scale(.64,.613)"/>
<g filter="url(#sh)"><rect x="1529" y="920" width="71" height="51" fill="#fff"/></g>
<use href="#phDuck" transform="translate(1532,923) scale(.65,.6)"/>
<g stroke="#000" stroke-width="2" stroke-dasharray="6,4">
<line x1="1504" y1="922" x2="1504" y2="1003"/><line x1="1570" y1="977" x2="1570" y2="1057"/>
</g>
<g fill="#000">
<polygon points="1499,918 1509,918 1504,924"/><polygon points="1499,1007 1509,1007 1504,1001"/>
<polygon points="1565,973 1575,973 1570,979"/><polygon points="1565,1060 1575,1060 1570,1054"/>
</g>
<rect x="1460" y="1007" width="89" height="46" fill="#4b3cf0" stroke="#3020d0"/>
<rect x="1504" y="1060" width="102" height="47" fill="#4b3cf0" stroke="#3020d0"/>
<g font-size="12.5" font-weight="bold" fill="#fff" text-anchor="middle">
<text x="1504.5" y="1027.5">Western gull</text><text x="1504.5" y="1044">in lake.</text>
<text x="1555" y="1080.5">Gadwall crow</text><text x="1555" y="1097">in bamboo.</text>
</g>
<g font-size="19" text-anchor="middle" fill="#111">
<text x="1356" y="889">Image</text><text x="1356" y="910">Embedding</text>
<text x="1358" y="1092">Text</text><text x="1358" y="1114">Embedding</text>
</g>
<g font-size="19" text-anchor="middle" fill="#7b1a1a">
<text x="1356" y="990">Modality</text><text x="1356" y="1012">Gap</text>
</g>
<rect x="1353.5" y="935" width="5" height="33" fill="#7b1a1a"/><polygon points="1346,938 1366,938 1356,921" fill="#7b1a1a"/>
<rect x="1353.5" y="1021" width="5" height="30" fill="#7b1a1a"/><polygon points="1346,1047 1366,1047 1356,1064" fill="#7b1a1a"/>
<text x="1653" y="907" font-size="19" fill="#d42020">Training</text>
<line x1="1653" y1="918" x2="1722" y2="918" stroke="#d42020" stroke-width="3.5"/><polygon points="1720,910 1735,918 1720,926" fill="#d42020"/>
<text x="1687" y="944" font-size="19" font-style="italic" text-anchor="middle" fill="#111">Waterbird or</text>
<text x="1687" y="965" font-size="19" font-style="italic" text-anchor="middle" fill="#111">Landbird?</text>
<polygon points="1744,912 1807,930 1807,1042 1744,1061" fill="#eba928"/>
<text transform="translate(1776,987) rotate(90)" dy="7" font-size="19" text-anchor="middle" fill="#111">Classifier</text>
<line x1="1655" y1="1055" x2="1722" y2="1055" stroke="#3a3af0" stroke-width="3.5"/><polygon points="1720,1047 1735,1055 1720,1063" fill="#3a3af0"/>
<text x="1694" y="1082" font-size="19" text-anchor="middle" fill="#3535e8">Diagnosing &amp;</text>
<text x="1694" y="1105" font-size="19" text-anchor="middle" fill="#3535e8">Rectifying</text>

<!-- Proposition -->
<g font-family="'Liberation Serif','DejaVu Serif',serif" font-size="14.5" fill="#111">
<text x="1258" y="1314.5" textLength="596" lengthAdjust="spacing"><tspan font-weight="bold">Proposition 2.1</tspan> (Informal version of Proposition A.1). <tspan font-style="italic">Suppose there exists a gap vector </tspan><tspan font-weight="bold" font-style="italic">g</tspan> ∈ ℝ<tspan font-size="9" dy="-5">d</tspan></text>
<text x="1258" y="1331.2" textLength="596" lengthAdjust="spacing" font-style="italic">such that every pair of image embedding x and caption embedding y satisfies <tspan font-weight="bold">g</tspan> = x − y, the gap</text>
<text x="1258" y="1347.9" textLength="596" lengthAdjust="spacing" font-style="italic"><tspan font-weight="bold">g</tspan> is orthogonal to the span of image embeddings, and the image embeddings have zero mean in</text>
<text x="1258" y="1364.6" textLength="596" lengthAdjust="spacing" font-style="italic">the subspace orthogonal to <tspan font-weight="bold">g</tspan>. Then, any linear function minimizing a regularized quadratic loss on</text>
<text x="1258" y="1381.3" textLength="596" lengthAdjust="spacing" font-style="italic">image embeddings achieves the same loss on text embeddings, enabling cross-modal transferability.</text>
</g>
<rect x="1557" y="1301" width="21" height="17" fill="none" stroke="#e02020" stroke-width="1.5"/>

<!-- ===== Section 2 figures ===== -->
<rect x="1910" y="500" width="610" height="147" fill="#fff"/>
<text x="1926" y="532" font-size="28" font-weight="bold" fill="#111">Discover Error Slices</text>
<use href="#cloudW" transform="translate(1922,542)"/>
<use href="#cloudL" transform="translate(2223,542)"/>
<g font-size="18" font-style="italic" text-anchor="middle" fill="#111">
<text x="2140" y="578.5">Waterbird in land</text>
<text x="2136" y="608.5">Acc: <tspan fill="#e02020">32%</tspan></text>
<text x="2439" y="579">Landbird in water</text>
<text x="2436" y="608.5">Acc: <tspan fill="#e02020">65%</tspan></text>
</g>
<rect x="1910" y="748" width="610" height="125" fill="#fff"/>
<text x="1922" y="777" font-size="28" font-weight="bold" fill="#111">Identify Influential Attributes</text>
<g fill="#e9aa2b">
<rect x="2105" y="792" width="98" height="12"/><rect x="2105" y="808" width="31" height="14"/>
<rect x="2056" y="826" width="49" height="13"/><rect x="2043" y="844" width="62" height="13"/>
</g>
<line x1="2105" y1="785" x2="2105" y2="864" stroke="#e09a18" stroke-width="1.5"/>
<g font-size="18" font-style="italic" fill="#111">
<text x="2207" y="803">+31% Ocean</text>
<text x="2141" y="820">+7% Lake</text>
<text x="2051" y="839" text-anchor="end">Forest -15%</text>
<text x="2037" y="857" text-anchor="end">Bamboo -19%</text>
</g>
<g font-size="17" font-style="italic" fill="#111" text-anchor="middle">
<text x="2429" y="824">Influential Attributes</text><text x="2429" y="844">for Waterbird</text>
</g>

<!-- ===== Section 3 figure ===== -->
<rect x="1911" y="1167" width="610" height="140" fill="#fff"/>
<text x="1927" y="1193" font-size="28" font-weight="bold" fill="#111">Rectify Model Misbehaviors</text>
<use href="#cloudW" transform="translate(1923,1203)"/>
<use href="#cloudL" transform="translate(2222,1203)"/>
<g font-size="18" font-style="italic" text-anchor="middle" fill="#111">
<text x="2140" y="1241.5">Waterbird in land</text>
<text x="2137" y="1269.5">Acc: <tspan fill="#2e8b1e">56%</tspan></text>
<text x="2437" y="1242.5">Landbird in water</text>
<text x="2433" y="1270.5">Acc: <tspan fill="#2e8b1e">83%</tspan></text>
</g>
</svg>

<!-- texts under boxes (on top of svg) -->
<div class="a c" style="left:1896px;top:652px;width:640px;font-size:27px;line-height:32px;color:#7b1a1a">We compute the model’s error rate on each set of<br>input texts defined by a specific attribute subset.</div>
<div class="a c" style="left:1896px;top:875px;width:640px;font-size:27px;line-height:30px;color:#7b1a1a">We compute average prediction change with the<br>presence and absence of each attribute.</div>
<div class="a c" style="left:1893px;top:1305.7px;width:644px;font-size:27px;line-height:32.5px;color:#7b1a1a">We generate additional data that the model fails on<br>using language and continue training the model on<br>these synthesized data.</div>

</body></html>
